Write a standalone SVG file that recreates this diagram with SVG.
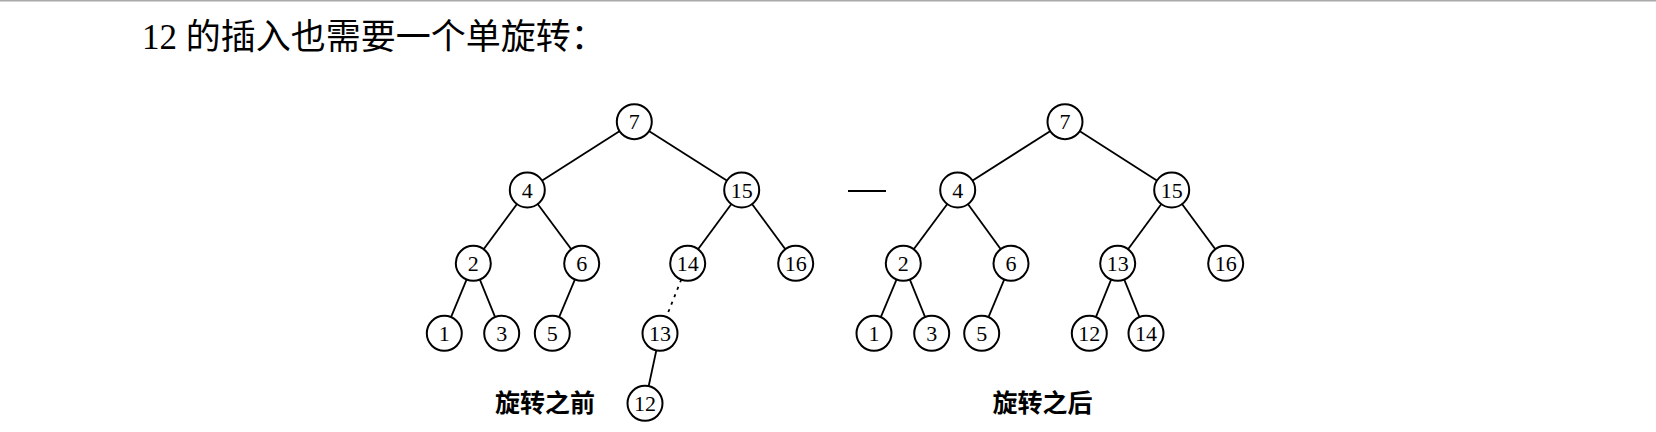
<svg xmlns="http://www.w3.org/2000/svg" width="1656" height="432" viewBox="0 0 1656 432">
<style>
.n circle{fill:#fff;stroke:#000;stroke-width:2}
.n text{font-family:"Liberation Serif","Noto Sans CJK SC",serif;font-size:22px;text-anchor:middle;dominant-baseline:central;fill:#000}
.e line{stroke:#000;stroke-width:1.8}
.lbl{font-family:"Noto Sans CJK SC",sans-serif;font-size:25px;font-weight:bold;text-anchor:middle;fill:#000}
</style>
<rect x="0" y="0" width="1656" height="432" fill="#fff"/>
<line x1="0" y1="0.75" x2="1656" y2="0.75" stroke="#aaa" stroke-width="1.5"/>
<text x="142" y="49" font-family="'Liberation Serif','Noto Sans CJK SC',serif" font-size="35" fill="#000">12 的插入也需要一个单旋转：</text>
<g id="connectors" class="e">
<line x1="634.3" y1="121.7" x2="527.3" y2="190"/>
<line x1="634.3" y1="121.7" x2="741.7" y2="190"/>
<line x1="527.3" y1="190" x2="473.3" y2="263.3"/>
<line x1="527.3" y1="190" x2="581.7" y2="263.3"/>
<line x1="741.7" y1="190" x2="687.7" y2="263.3"/>
<line x1="741.7" y1="190" x2="795.7" y2="263.3"/>
<line x1="473.3" y1="263.3" x2="444.3" y2="333.3"/>
<line x1="473.3" y1="263.3" x2="501.7" y2="333.3"/>
<line x1="581.7" y1="263.3" x2="552.3" y2="333.3"/>
<line x1="681.3" y1="279.5" x2="667.5" y2="314" stroke-dasharray="3,5"/>
<line x1="660" y1="333.3" x2="645" y2="403.3"/>
<line x1="1065" y1="121.7" x2="957.7" y2="190"/>
<line x1="1065" y1="121.7" x2="1171.7" y2="190"/>
<line x1="957.7" y1="190" x2="903.3" y2="263.3"/>
<line x1="957.7" y1="190" x2="1011" y2="263.3"/>
<line x1="1171.7" y1="190" x2="1117.7" y2="263.3"/>
<line x1="1171.7" y1="190" x2="1225.7" y2="263.3"/>
<line x1="903.3" y1="263.3" x2="874" y2="333.3"/>
<line x1="903.3" y1="263.3" x2="931.7" y2="333.3"/>
<line x1="1011" y1="263.3" x2="981.7" y2="333.3"/>
<line x1="1117.7" y1="263.3" x2="1089.3" y2="333.3"/>
<line x1="1117.7" y1="263.3" x2="1146" y2="333.3"/>
<line x1="848" y1="191" x2="886" y2="191" stroke-width="2.2"/>
</g>
<g id="L7" class="n"><circle cx="634.3" cy="121.7" r="17.5"/><text x="634.3" y="121.7">7</text></g>
<g id="L4" class="n"><circle cx="527.3" cy="190" r="17.5"/><text x="527.3" y="190">4</text></g>
<g id="L15" class="n"><circle cx="741.7" cy="190" r="17.5"/><text x="741.7" y="190">15</text></g>
<g id="L2" class="n"><circle cx="473.3" cy="263.3" r="17.5"/><text x="473.3" y="263.3">2</text></g>
<g id="L6" class="n"><circle cx="581.7" cy="263.3" r="17.5"/><text x="581.7" y="263.3">6</text></g>
<g id="L14" class="n"><circle cx="687.7" cy="263.3" r="17.5"/><text x="687.7" y="263.3">14</text></g>
<g id="L16" class="n"><circle cx="795.7" cy="263.3" r="17.5"/><text x="795.7" y="263.3">16</text></g>
<g id="L1" class="n"><circle cx="444.3" cy="333.3" r="17.5"/><text x="444.3" y="333.3">1</text></g>
<g id="L3" class="n"><circle cx="501.7" cy="333.3" r="17.5"/><text x="501.7" y="333.3">3</text></g>
<g id="L5" class="n"><circle cx="552.3" cy="333.3" r="17.5"/><text x="552.3" y="333.3">5</text></g>
<g id="L13" class="n"><circle cx="660" cy="333.3" r="17.5"/><text x="660" y="333.3">13</text></g>
<g id="L12" class="n"><circle cx="645" cy="403.3" r="17.5"/><text x="645" y="403.3">12</text></g>
<g id="R7" class="n"><circle cx="1065" cy="121.7" r="17.5"/><text x="1065" y="121.7">7</text></g>
<g id="R4" class="n"><circle cx="957.7" cy="190" r="17.5"/><text x="957.7" y="190">4</text></g>
<g id="R15" class="n"><circle cx="1171.7" cy="190" r="17.5"/><text x="1171.7" y="190">15</text></g>
<g id="R2" class="n"><circle cx="903.3" cy="263.3" r="17.5"/><text x="903.3" y="263.3">2</text></g>
<g id="R6" class="n"><circle cx="1011" cy="263.3" r="17.5"/><text x="1011" y="263.3">6</text></g>
<g id="R13" class="n"><circle cx="1117.7" cy="263.3" r="17.5"/><text x="1117.7" y="263.3">13</text></g>
<g id="R16" class="n"><circle cx="1225.7" cy="263.3" r="17.5"/><text x="1225.7" y="263.3">16</text></g>
<g id="R1" class="n"><circle cx="874" cy="333.3" r="17.5"/><text x="874" y="333.3">1</text></g>
<g id="R3" class="n"><circle cx="931.7" cy="333.3" r="17.5"/><text x="931.7" y="333.3">3</text></g>
<g id="R5" class="n"><circle cx="981.7" cy="333.3" r="17.5"/><text x="981.7" y="333.3">5</text></g>
<g id="R12" class="n"><circle cx="1089.3" cy="333.3" r="17.5"/><text x="1089.3" y="333.3">12</text></g>
<g id="R14" class="n"><circle cx="1146" cy="333.3" r="17.5"/><text x="1146" y="333.3">14</text></g>
<text class="lbl" x="545" y="412">旋转之前</text>
<text class="lbl" x="1042.5" y="412">旋转之后</text>
</svg>
